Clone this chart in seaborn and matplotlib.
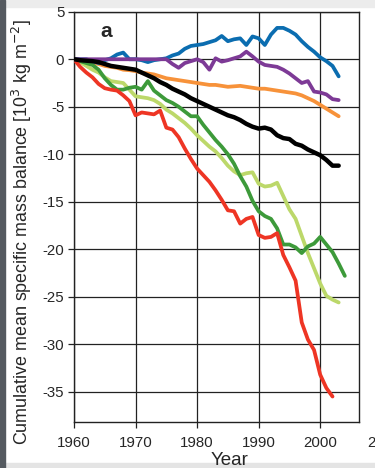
import numpy as np
import pandas as pd
import matplotlib
matplotlib.use('Agg')
import matplotlib.pyplot as plt
import seaborn as sns
from matplotlib.patches import Rectangle

# cumulative mean specific mass balance [10^3 kg m^-2], one value per year from 1960
blue = [0, 0, 0, -0.2, -0.4, -0.1, 0.1, 0.5, 0.7, 0.0, 0.0, -0.1, -0.3, -0.1, 0.0,
        0.1, 0.4, 0.6, 1.1, 1.4, 1.5, 1.6, 1.8, 2.0, 2.45, 1.9, 2.1, 2.2, 1.5, 2.4,
        2.2, 1.5, 2.6, 3.3, 3.3, 3.0, 2.6, 1.9, 1.3, 0.8, 0.2, -0.2, -0.7, -1.8]
purple = [0, 0, 0, 0, 0, 0, 0, 0, 0, 0, 0, 0, 0, 0, 0,
          0.0, -0.5, -0.9, -0.4, -0.2, 0.0, -0.3, -1.1, 0.1, -0.25, -0.1, 0.1, 0.3, 0.8, 0.3,
          -0.25, -0.6, -0.7, -0.8, -1.1, -1.5, -2.0, -2.5, -2.3, -3.4, -3.5, -3.7, -4.2, -4.3]
orange = [0, -0.1, -0.2, -0.4, -0.5, -0.7, -0.8, -0.9, -1.1, -1.15, -1.25, -1.4, -1.5, -1.6, -1.8,
          -2.0, -2.1, -2.2, -2.3, -2.4, -2.5, -2.6, -2.7, -2.7, -2.8, -2.9, -2.85, -2.8, -2.9, -3.0,
          -3.1, -3.1, -3.2, -3.3, -3.4, -3.5, -3.6, -3.8, -4.1, -4.4, -4.8, -5.2, -5.6, -6.0]
black = [0, -0.1, -0.15, -0.2, -0.3, -0.5, -0.7, -0.8, -0.9, -1.0, -1.1, -1.4, -1.7, -2.0, -2.4,
         -2.7, -3.1, -3.4, -3.7, -4.1, -4.4, -4.7, -5.0, -5.3, -5.6, -5.9, -6.1, -6.4, -6.8, -7.1,
         -7.3, -7.2, -7.4, -8.0, -8.3, -8.4, -8.9, -9.1, -9.5, -9.8, -10.1, -10.6, -11.2, -11.2]
light_green = [0, -0.3, -0.7, -1.1, -1.4, -1.9, -2.3, -2.4, -2.5, -3.2, -3.9, -4.0, -4.1, -4.3, -4.7,
               -5.3, -5.7, -6.2, -6.7, -7.3, -8.0, -8.6, -9.2, -9.7, -10.4, -11.2, -11.8, -12.2, -12.0, -11.9,
               -13.1, -13.4, -13.3, -13.0, -14.4, -15.8, -16.8, -18.6, -20.4, -22.0, -23.6, -24.9, -25.3, -25.6]
dark_green = [0, -0.2, -0.4, -0.6, -1.1, -2.0, -2.7, -3.2, -3.2, -3.0, -2.9, -3.2, -2.3, -3.3, -3.8,
              -4.3, -4.6, -5.0, -5.5, -6.0, -6.0, -6.9, -7.7, -8.5, -9.2, -10.0, -11.0, -12.3, -13.4, -14.9,
              -16.0, -16.5, -16.8, -17.8, -19.5, -19.5, -19.8, -20.4, -19.7, -19.4, -18.7, -19.5, -20.3, -21.5,
              -22.8]
red = [0, -0.8, -1.4, -1.9, -2.6, -3.05, -3.2, -3.3, -3.8, -4.4, -5.9, -5.6, -5.7, -5.8, -5.4,
       -7.2, -7.4, -8.2, -9.4, -10.5, -11.5, -12.2, -12.9, -13.8, -14.8, -15.9, -16.0, -17.3, -16.8, -16.6,
       -18.5, -18.8, -18.7, -18.3, -20.6, -21.9, -23.3, -27.7, -29.5, -30.6, -33.2, -34.6, -35.5]

series = {
    "orange": (orange, "#f7923a", 2.7),
    "light_green": (light_green, "#bcd86a", 2.7),
    "dark_green": (dark_green, "#3d9a3a", 2.7),
    "red": (red, "#ee3524", 2.7),
    "blue": (blue, "#0b6db0", 2.7),
    "purple": (purple, "#7d3a96", 2.7),
    "black": (black, "#000000", 3.2),
}

xticks = [1960, 1970, 1980, 1990, 2000]
yticks = [5, 0, -5, -10, -15, -20, -25, -30, -35]

sns.set_style("white")
plt.rcParams['font.family'] = ['Liberation Sans', 'DejaVu Sans']

fig = plt.figure(figsize=(3.75, 4.68), dpi=100)
fig.patch.set_facecolor("white")
# screenshot borders
fig.add_artist(Rectangle((0, 0.985), 1, 0.015, transform=fig.transFigure, color="#ececec", zorder=0))
fig.add_artist(Rectangle((0, 0), 1, 0.011, transform=fig.transFigure, color="#e4e4e4", zorder=0))
fig.add_artist(Rectangle((0, 0), 0.014, 1, transform=fig.transFigure, color="#555a60", zorder=0))

ax = fig.add_axes([0.1973, 0.0989, 0.76, 0.876])

for name, (vals, color, lw) in series.items():
    df = pd.DataFrame({"Year": 1960 + np.arange(len(vals)), "Balance": vals})
    sns.lineplot(data=df, x="Year", y="Balance", color=color, lw=lw, ax=ax,
                 solid_joinstyle="round", solid_capstyle="round", zorder=3)

ax.set_xlim(1960, 2006.3)
ax.set_ylim(-38.15, 5)
ax.set_xticks(xticks)
ax.set_yticks(yticks)
ax.grid(True, color="#222222", lw=0.9, zorder=1)
for sp in ax.spines.values():
    sp.set_color("#222222")
    sp.set_linewidth(1.0)
ax.tick_params(axis="x", direction="out", length=4, width=0.9, color="#222222",
               labelsize=10.8, pad=6, bottom=True)
ax.tick_params(axis="y", direction="out", length=4, width=0.9, color="#222222",
               labelsize=10.8, pad=3, left=True)
ax.set_xticklabels([str(t) for t in xticks])
ax.set_yticklabels([str(t) for t in yticks])
# 2010 label sits beyond the frame, cut by the image edge
ax.annotate("2010", xy=(2010, -38.15), xycoords="data", xytext=(2, -10),
            textcoords="offset points", ha="center", va="top", fontsize=10.8,
            annotation_clip=False)

ax.set_xlabel("Year", fontsize=13.5, va="top")
ax.xaxis.set_label_coords(0.547, -0.075)
ax.set_ylabel("Cumulative mean specific mass balance [10$^3$ kg m$^{-2}$]", fontsize=12.9)
ax.yaxis.set_label_coords(-0.14, 0.463)
ax.text(1965.3, 2.9, "a", fontsize=15, fontweight="bold", ha="center", va="center")

plt.savefig("out.png", dpi=100)
plt.close()
